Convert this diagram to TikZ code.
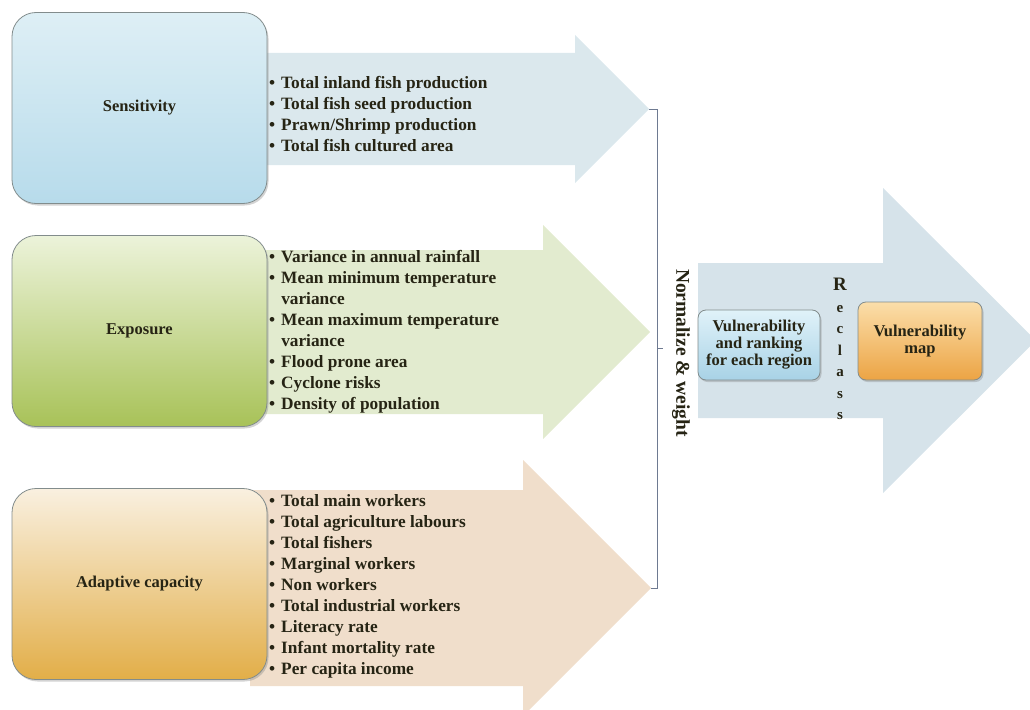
\documentclass[tikz,border=0pt]{standalone}
\usepackage{fontspec}
\setmainfont{Liberation Serif}
\usetikzlibrary{shadows}

\definecolor{ink}{RGB}{38,36,20}
\definecolor{edge}{RGB}{130,140,140}
\definecolor{brace}{RGB}{110,122,145}
\definecolor{arrA}{RGB}{219,232,237}
\definecolor{arrB}{RGB}{226,235,207}
\definecolor{arrC}{RGB}{240,222,203}
\definecolor{arrR}{RGB}{214,227,234}
\definecolor{sensT}{RGB}{222,239,245}
\definecolor{sensB}{RGB}{183,219,235}
\definecolor{expoT}{RGB}{236,243,218}
\definecolor{expoB}{RGB}{168,194,88}
\definecolor{adapT}{RGB}{249,240,224}
\definecolor{adapB}{RGB}{226,174,72}
\definecolor{rankT}{RGB}{224,242,249}
\definecolor{rankB}{RGB}{168,210,230}
\definecolor{mapT}{RGB}{251,222,170}
\definecolor{mapB}{RGB}{236,164,68}

\begin{document}
\begin{tikzpicture}[x=1pt,y=-1pt,text=ink,
  factor/.style={draw=edge,line width=0.8pt,rounded corners=24pt,
    minimum width=255pt,minimum height=191pt,
    font=\bfseries\fontsize{16.5}{20}\selectfont,
    drop shadow={opacity=0.35,shadow xshift=1.5pt,shadow yshift=-2pt}},
  stage/.style={draw=edge,line width=0.8pt,rounded corners=8pt,align=center,
    inner sep=0pt,font=\bfseries\fontsize{16.5}{17}\selectfont,
    drop shadow={opacity=0.35,shadow xshift=1.5pt,shadow yshift=-2pt}},
  items/.style={anchor=west,inner sep=0pt,
    font=\bfseries\fontsize{17.3}{21}\selectfont},
  bracket/.style={draw=brace,line width=1pt}]
  \useasboundingbox (0,0) rectangle (1030,709);
  \clip (0,0) rectangle (1030,709);

  % input arrows behind the three factor boxes
  \foreach \yc/\bh/\hx/\hh/\col [count=\i] in
      {109/56/575/74/arrA,332/82/543/107/arrB,588/98/523/128/arrC}{
    \fill[\col] (250,\yc-\bh) -- (\hx,\yc-\bh) -- (\hx,\yc-\hh)
      -- (\hx+\hh,\yc) -- (\hx,\yc+\hh) -- (\hx,\yc+\bh)
      -- (250,\yc+\bh) -- cycle;
    \coordinate (tip\i) at (\hx+\hh,\yc);
  }
  % output arrow
  \fill[arrR] (698,263) -- (883,263) -- (883,188) -- (1036,340.5)
    -- (883,493) -- (883,418) -- (698,418) -- cycle;

  \node[factor,top color=sensT,bottom color=sensB] (sens) at (139.5,108) {Sensitivity};
  \node[factor,top color=expoT,bottom color=expoB] (expo) at (139.5,331) {Exposure};
  \node[factor,top color=adapT,bottom color=adapB] (adap) at (139.5,584) {Adaptive capacity};

  \node[items] (senslist) at (269,116) {\begin{tabular}{@{}l@{\hspace{6pt}}l@{}}
    • & Total inland fish production\\
    • & Total fish seed production\\
    • & Prawn/Shrimp production\\
    • & Total fish cultured area
  \end{tabular}};
  \node[items] (expolist) at (269,332) {\begin{tabular}{@{}l@{\hspace{6pt}}l@{}}
    • & Variance in annual rainfall\\
    • & Mean minimum temperature\\
      & variance\\
    • & Mean maximum temperature\\
      & variance\\
    • & Flood prone area\\
    • & Cyclone risks\\
    • & Density of population
  \end{tabular}};
  \node[items] (adaplist) at (269,586) {\begin{tabular}{@{}l@{\hspace{6pt}}l@{}}
    • & Total main workers\\
    • & Total agriculture labours\\
    • & Total fishers\\
    • & Marginal workers\\
    • & Non workers\\
    • & Total industrial workers\\
    • & Literacy rate\\
    • & Infant mortality rate\\
    • & Per capita income
  \end{tabular}};

  % bracket joining the three arrow tips
  \coordinate (brk) at (657,348.5);
  \draw[bracket] (tip1) -- (tip1 -| brk) -- (tip3 -| brk) -- (tip3);
  \draw[bracket] (brk) -- ++(6,0);
  \node[rotate=-90,font=\bfseries\fontsize{19.5}{20}\selectfont] (norm)
    at (681,353) {Normalize \& weight};

  \node[stage,top color=rankT,bottom color=rankB,minimum width=122pt,
    minimum height=70pt] (rank) at (759,345) {Vulnerability\\and ranking\\for each region};
  \node[stage,top color=mapT,bottom color=mapB,minimum width=124pt,
    minimum height=78pt] (map) at (920,341) {Vulnerability\\map};
  \node[align=center,inner sep=0pt,font=\bfseries\fontsize{15}{21.5}\selectfont]
    (recl) at (840,349) {{\fontsize{19}{21.5}\selectfont R}\\e\\c\\l\\a\\s\\s};
\end{tikzpicture}
\end{document}
